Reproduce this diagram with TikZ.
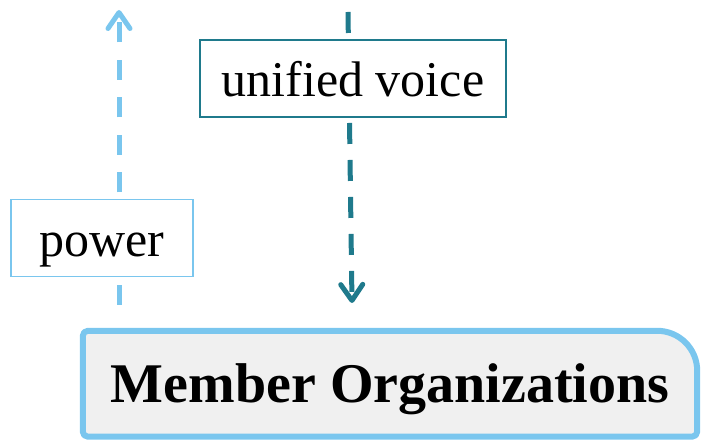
\documentclass[tikz,border=0pt]{standalone}
\usepackage{fontspec}
\setmainfont{Liberation Serif}
\usetikzlibrary{arrows.meta}
\definecolor{lblue}{RGB}{122,198,238}
\definecolor{teal}{RGB}{31,122,140}
\definecolor{boxgray}{RGB}{240,240,240}
\tikzset{
  labelbox/.style={draw, fill=white, inner sep=0pt, font=\fontsize{50}{60}\selectfont},
  powerline/.style={draw=lblue, line width=5pt, dash pattern=on 20pt off 17.5pt,
     -{Straight Barb[length=16pt,width=22pt,round]}},
  voiceline/.style={draw=teal, line width=5pt, dash pattern=on 21pt off 16pt,
     -{Straight Barb[length=16pt,width=22pt,round]}},
  memborder/.style={draw=lblue, line width=6pt, fill=boxgray, line join=round},
}
\begin{document}
\begin{tikzpicture}[x=1pt,y=1pt]
\useasboundingbox (0,0) rectangle (702,441);
% member organizations box
\node[inner sep=0pt, minimum width=614pt, minimum height=105.5pt] (mem) at (390,57.25) {};
\draw[memborder] ([xshift=5pt]mem.south west) -- ([xshift=-5pt]mem.south east)
  arc[start angle=-90,end angle=0,radius=5pt] -- ([yshift=-40pt]mem.north east)
  arc[start angle=0,end angle=90,radius=40pt] -- ([xshift=5pt]mem.north west)
  arc[start angle=90,end angle=180,radius=5pt] -- ([yshift=5pt]mem.south west)
  arc[start angle=180,end angle=270,radius=5pt] -- cycle;
\node[inner sep=0pt, font=\bfseries\fontsize{56}{66}\selectfont, text height=45pt, text depth=8pt] (memtext) at (mem.center) {Member Organizations};
% connectors
\coordinate (pbot) at (119,136);
\coordinate (ptop) at (119,431);
\draw[powerline] (pbot) -- (ptop);
\coordinate (vtop) at (348,429);
\coordinate (vbot) at (352,138);
\draw[voiceline] (vtop) -- (vbot);
% label boxes
\node[labelbox, draw=lblue, line width=1.5pt, minimum width=182pt, minimum height=77pt,
      text height=38pt, text depth=0pt] (power) at (102,203) {power};
\node[labelbox, draw=teal, line width=2pt, minimum width=306pt, minimum height=77pt,
      text height=47pt, text depth=11.6pt] (voice) at (353,362) {unified voice};
\end{tikzpicture}
\end{document}
